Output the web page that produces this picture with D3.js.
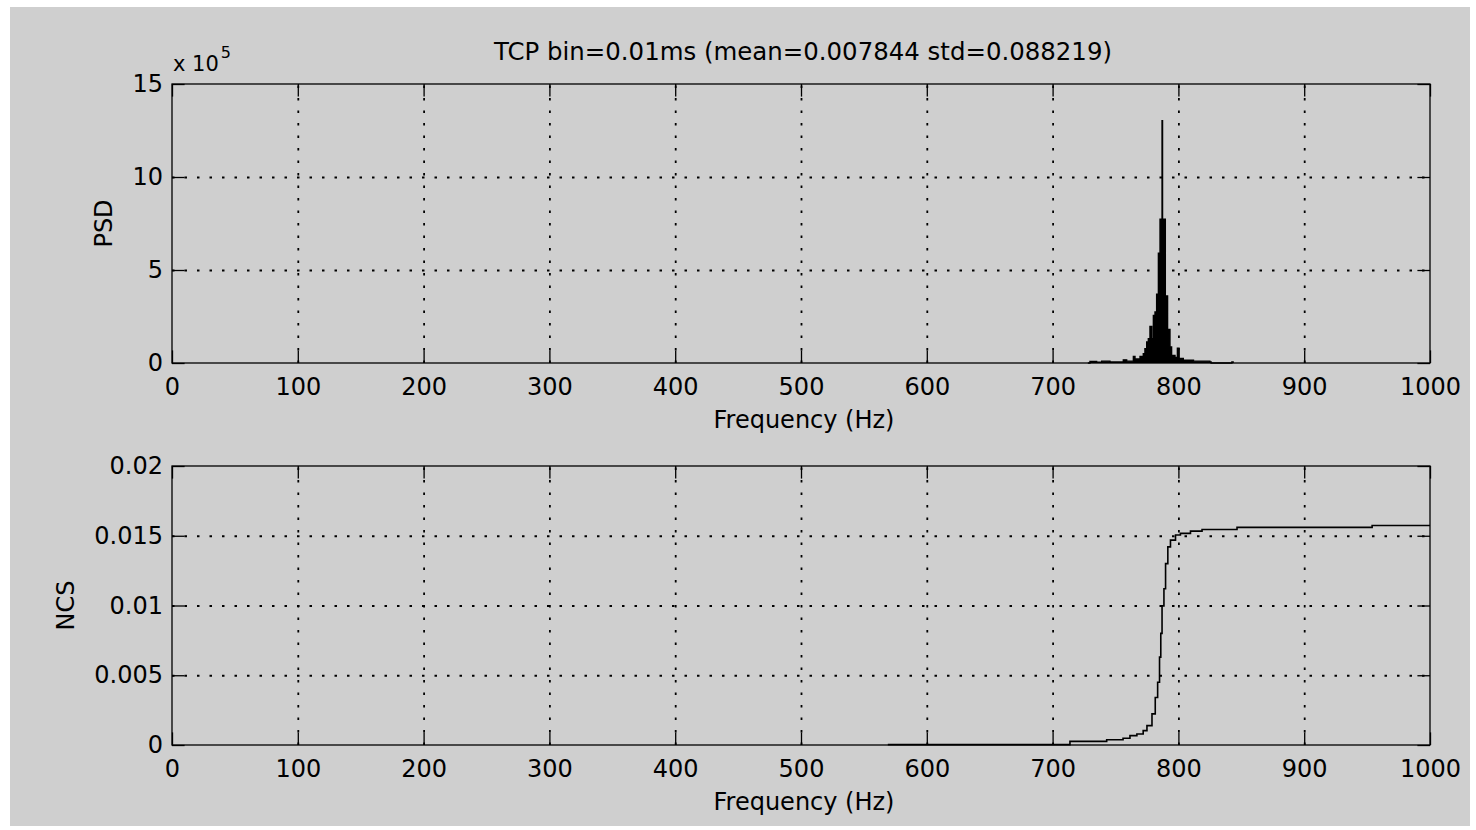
<!DOCTYPE html>
<html>
<head>
<meta charset="utf-8">
<script src="https://cdn.jsdelivr.net/npm/d3@7"></script>
<style>
  html, body { margin: 0; padding: 0; background: #fff; }
  svg { display: block; }
  text { font-family: "DejaVu Sans", sans-serif; fill: #000; }
</style>
</head>
<body>
<div id="chart"></div>
<script>
// ------------------------------------------------------------
//  Data
// ------------------------------------------------------------

const titleText = 'TCP bin=0.01ms (mean=0.007844 std=0.088219)';

// shared frequency axis
const freqTicks = [0, 100, 200, 300, 400, 500, 600, 700, 800, 900, 1000];
const freqTickLabels = ['0', '100', '200', '300', '400', '500', '600', '700', '800', '900', '1000'];

// top panel: PSD (units of 1e5)
const psdTicks = [0, 5, 10, 15];
const psdTickLabels = ['0', '5', '10', '15'];
const psdFreq = [728, 729.7, 735, 739, 745.6, 756.2, 758.9, 764.2, 765.5, 769.5, 772.1, 773.4,
  774.8, 776.1, 777.4, 778.8, 780.1, 781.4, 782.7, 784.1, 785.4, 787.0, 787.4, 789.6,
  790.7, 791.4, 793.3, 794.6, 797.3, 799.2, 800.5, 803.9, 812, 825, 826, 842.5, 843.5];
const psdValue = [0, 0.08, 0.04, 0.1, 0.06, 0.17, 0.1, 0.35, 0.22, 0.35, 0.5, 0.77,
  1.13, 1.3, 1.97, 1.3, 2.55, 2.74, 3.7, 5.9, 7.73, 13.03, 7.73, 3.4,
  3.6, 1.8, 0.86, 0.4, 0.3, 0.8, 0.25, 0.15, 0.1, 0.05, 0, 0.06, 0];

// bottom panel: NCS
const ncsTicks = [0, 0.005, 0.01, 0.015, 0.02];
const ncsTickLabels = ['0', '0.005', '0.01', '0.015', '0.02'];
const ncsFreq = [569, 713.8, 743, 756, 761.5, 767, 772, 775, 779, 781.6, 783.5, 785, 786, 787,
  788.5, 789.8, 791.6, 793.7, 797.7, 801.6, 809.6, 818.8, 846.6, 954, 1000];
const ncsValue = [0.00003, 0.00026, 0.00038, 0.00048, 0.00067, 0.00079, 0.00103, 0.00139,
  0.00223, 0.0034, 0.0045, 0.0063, 0.008, 0.00997, 0.0112, 0.0130, 0.0142, 0.01469,
  0.01505, 0.01517, 0.01533, 0.01545, 0.0156, 0.01574, 0.01574];

// ------------------------------------------------------------
//  Layout
// ------------------------------------------------------------

const W = 1476, H = 830;
const FONT = 24;
const TICK = 12.6;
const panelTop = { left: 172, right: 1430, top: 84, bottom: 363 };
const panelBot = { left: 172, right: 1430, top: 466, bottom: 745 };

const svg = d3.select('#chart').append('svg')
  .attr('width', W).attr('height', H);

svg.append('rect')
  .attr('x', 10).attr('y', 7)
  .attr('width', 1460).attr('height', 819)
  .attr('fill', '#cfcfcf');

function styleAxis(g) {
  g.attr('font-family', null).attr('font-size', null);
  g.select('.domain').remove();
  g.selectAll('.tick line').attr('stroke', '#000').attr('stroke-width', 1.3);
  g.selectAll('.tick text').attr('font-size', FONT).attr('fill', '#000');
}

function drawPanel(p, yDomain, yTicks, yLabels, yName, yNameX) {
  const w = p.right - p.left, h = p.bottom - p.top;
  const x = d3.scaleLinear().domain([0, 1000]).range([0, w]);
  const y = d3.scaleLinear().domain(yDomain).range([h, 0]);
  const g = svg.append('g').attr('transform', `translate(${p.left},${p.top})`);

  // dotted grid (not on box edges)
  const gx = g.append('g').attr('transform', `translate(0,${h})`)
    .call(d3.axisBottom(x).tickValues(freqTicks.slice(1, -1)).tickSize(-h).tickFormat(''));
  const gy = g.append('g')
    .call(d3.axisLeft(y).tickValues(yTicks.slice(1, -1)).tickSize(-w).tickFormat(''));
  [gx, gy].forEach(a => {
    a.select('.domain').remove();
    a.selectAll('.tick line')
      .attr('stroke', '#000').attr('stroke-width', 1.8)
      .attr('stroke-dasharray', '2.5,10');
  });

  const marks = g.append('g').attr('class', 'marks');

  // box
  g.append('rect').attr('width', w).attr('height', h)
    .attr('fill', 'none').attr('stroke', '#000').attr('stroke-width', 1.3);

  // inward ticks on all four sides
  const fmtX = (d) => freqTickLabels[freqTicks.indexOf(d)];
  const fmtY = (d) => yLabels[yTicks.indexOf(d)];
  g.append('g').attr('transform', `translate(0,${h})`)
    .call(d3.axisBottom(x).tickValues(freqTicks).tickSize(-TICK).tickPadding(15).tickFormat(fmtX))
    .call(styleAxis);
  g.append('g')
    .call(d3.axisTop(x).tickValues(freqTicks).tickSize(-TICK).tickFormat(''))
    .call(styleAxis);
  g.append('g')
    .call(d3.axisLeft(y).tickValues(yTicks).tickSize(-TICK).tickPadding(9).tickFormat(fmtY))
    .call(styleAxis);
  g.append('g').attr('transform', `translate(${w},0)`)
    .call(d3.axisRight(y).tickValues(yTicks).tickSize(-TICK).tickFormat(''))
    .call(styleAxis);

  // axis titles
  g.append('text')
    .attr('x', w / 2 + 3).attr('y', h + 65)
    .attr('text-anchor', 'middle').attr('font-size', FONT)
    .text('Frequency (Hz)');
  g.append('text')
    .attr('transform', `translate(${yNameX - p.left},${h / 2}) rotate(-90)`)
    .attr('text-anchor', 'middle').attr('font-size', FONT)
    .text(yName);

  return { g, marks, x, y, w, h };
}

// ------------------------------------------------------------
//  Top panel: PSD
// ------------------------------------------------------------

const psdPanel = drawPanel(panelTop, [0, 15], psdTicks, psdTickLabels, 'PSD', 112);
const psdData = psdFreq.map((f, i) => ({ f, v: psdValue[i] }));

psdPanel.marks.append('path')
  .datum(psdData)
  .attr('fill', '#000')
  .attr('d', d3.area().x(d => psdPanel.x(d.f)).y0(psdPanel.h).y1(d => psdPanel.y(d.v)).curve(d3.curveStepAfter));
psdPanel.marks.append('path')
  .datum(psdData)
  .attr('fill', 'none').attr('stroke', '#000').attr('stroke-width', 1.4)
  .attr('d', d3.line().x(d => psdPanel.x(d.f)).y(d => psdPanel.y(d.v)).curve(d3.curveStepAfter));

// exponent label
const expo = psdPanel.g.append('text').attr('x', 1).attr('y', -13).attr('font-size', 21);
expo.append('tspan').text('x 10');
expo.append('tspan').attr('font-size', 16).attr('dy', -13).attr('dx', 2).text('5');

// title
psdPanel.g.append('text')
  .attr('x', psdPanel.w / 2 + 2).attr('y', -24)
  .attr('text-anchor', 'middle').attr('font-size', FONT)
  .attr('textLength', 618).attr('lengthAdjust', 'spacingAndGlyphs')
  .text(titleText);

// ------------------------------------------------------------
//  Bottom panel: NCS
// ------------------------------------------------------------

const ncsPanel = drawPanel(panelBot, [0, 0.02], ncsTicks, ncsTickLabels, 'NCS', 74);
const ncsData = ncsFreq.map((f, i) => ({ f, v: ncsValue[i] }));

ncsPanel.marks.append('path')
  .datum(ncsData)
  .attr('fill', 'none').attr('stroke', '#000').attr('stroke-width', 1.6)
  .attr('d', d3.line().x(d => ncsPanel.x(d.f)).y(d => ncsPanel.y(d.v)).curve(d3.curveStepAfter));
</script>
</body>
</html>
